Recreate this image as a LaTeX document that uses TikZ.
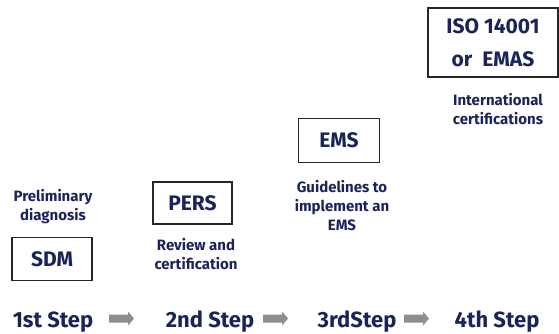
\documentclass[tikz,border=0pt]{standalone}
\usepackage{fontspec}
\setmainfont{Fira Sans}
\definecolor{navy}{HTML}{1B2459}
\definecolor{arrowgray}{HTML}{8E8E8E}
\begin{document}
\begin{tikzpicture}[x=1pt,y=-1pt,
  stepbox/.style={draw=black!85,line width=1.5pt,fill=white,text=navy,font=\bfseries\fontsize{21}{24}\selectfont,inner sep=0pt,align=center},
  lbl/.style={text=navy,font=\bfseries\fontsize{15}{19}\selectfont,align=center,inner sep=0pt},
  steplbl/.style={text=navy,font=\bfseries\fontsize{22}{26}\selectfont,inner sep=0pt,anchor=base},
  garrow/.style={fill=arrowgray,draw=none}
]
\useasboundingbox (0,0) rectangle (559,333);
% boxes
\node[stepbox,minimum width=80,minimum height=43] (sdm) at (52,259) {SDM};
\node[stepbox,minimum width=79,minimum height=42] (pers) at (192.5,203) {PERS};
\node[stepbox,minimum width=81,minimum height=44] (ems) at (339,140.5) {EMS};
\node[stepbox,minimum width=130,minimum height=69,font=\bfseries\fontsize{21}{33}\selectfont] (iso) at (493,42.5) {ISO 14001\\or\ \ EMAS};
% labels
\node[lbl] (prelim) at (53,207) {Preliminary\\diagnosis};
\node[lbl] (review) at (196,254) {Review and\\certification};
\node[lbl] (guide) at (342,206) {Guidelines to\\implement an\\EMS};
\node[lbl] (intl) at (498,109) {International\\certifications};
% steps
\node[steplbl] (s1) at (53,327.5) {1st Step};
\node[steplbl] (s2) at (210,327.5) {2nd Step};
\node[steplbl] (s3) at (357,327.5) {3rdStep};
\node[steplbl] (s4) at (497,327.5) {4th Step};
% arrows
\coordinate (a1) at (109,318.5);
\coordinate (a2) at (263,318.5);
\coordinate (a3) at (404,318.5);
\foreach \a in {a1,a2,a3}{
  \fill[garrow] ([shift={(0,-4)}]\a) -- ++(19,0) -- ++(0,-3) -- ++(6,7) -- ++(-6,7) -- ++(0,-3) -- ++(-19,0) -- cycle;
}
\end{tikzpicture}
\end{document}
